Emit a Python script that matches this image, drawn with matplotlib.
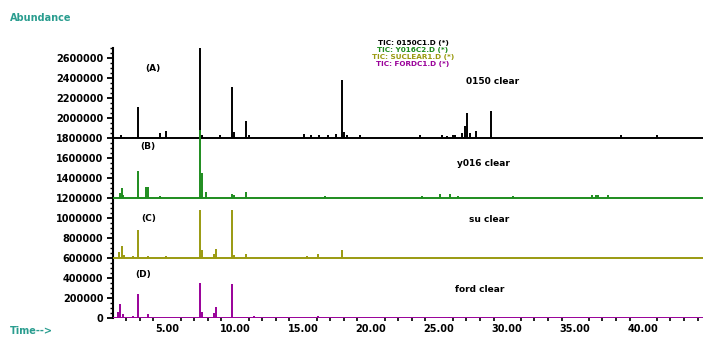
import numpy as np
import matplotlib
matplotlib.use("Agg")
import matplotlib.pyplot as plt
from matplotlib.ticker import MultipleLocator, FixedLocator

# peak times (min) and heights above each trace's own baseline
a_times = [1.6, 1.85, 2.5, 2.87, 4.49, 4.93, 7.43, 7.57, 8.9, 9.78, 9.93, 10.8, 11.0,
           15.1, 15.6, 16.2, 16.8, 17.4, 17.87, 18.0, 18.2, 19.2,
           23.6, 25.2, 25.6, 26.0, 26.2, 26.7, 26.9, 27.06, 27.3, 27.7, 28.8, 38.4, 41.0]
a_heights = [30000, 15000, 10000, 310000, 50000, 70000, 910000, 30000, 30000, 510000, 60000, 170000, 30000,
             40000, 30000, 30000, 30000, 40000, 580000, 60000, 30000, 30000,
             30000, 30000, 20000, 30000, 30000, 50000, 120000, 250000, 50000, 70000, 270000, 30000, 30000]

b_times = [1.54, 1.69, 1.8, 2.87, 3.46, 3.6, 4.49, 7.43, 7.57, 7.87, 9.78, 9.9, 10.8,
           16.6, 23.75, 25.1, 25.8, 26.4, 30.4, 36.25, 36.5, 36.7, 37.4]
b_heights = [50000, 100000, 30000, 270000, 110000, 110000, 20000, 680000, 250000, 60000, 40000, 30000, 60000,
             20000, 20000, 40000, 40000, 20000, 20000, 30000, 30000, 30000, 30000]

c_times = [1.47, 1.69, 1.84, 2.5, 2.87, 3.6, 4.93, 7.43, 7.57, 8.46, 8.6, 9.78, 9.93, 10.8,
           15.3, 16.1, 17.87]
c_heights = [60000, 120000, 30000, 20000, 280000, 20000, 20000, 480000, 80000, 40000, 90000, 480000, 30000, 40000,
             20000, 40000, 80000]

d_times = [1.4, 1.54, 1.77, 2.5, 2.87, 3.6, 7.43, 7.57, 8.46, 8.6, 9.78, 11.4, 16.1, 25.7]
d_heights = [60000, 140000, 40000, 20000, 240000, 40000, 350000, 60000, 50000, 110000, 340000, 20000, 20000, 10000]

baselines = [1800000, 1200000, 600000, 0]
colors = ['black', '#1e8c1e', '#9a9a10', '#990099']
panel_tags = ['(A)', '(B)', '(C)', '(D)']
sample_names = ['0150 clear', 'y016 clear', 'su clear', 'ford clear']
legend_lines = ['TIC: 0150C1.D (*)', 'TIC: Y016C2.D (*)', 'TIC: SUCLEAR1.D (*)', 'TIC: FORDC1.D (*)']

y_ticks = list(range(0, 2600001, 200000))
x_ticks = [5, 10, 15, 20, 25, 30, 35, 40]
x_tick_labels = ['5.00', '10.00', '15.00', '20.00', '25.00', '30.00', '35.00', '40.00']

t_min, t_max = 1.03, 44.4

fig = plt.figure(figsize=(7.03, 3.38), dpi=100)
ax = fig.add_axes([113 / 703, 20 / 338, 590 / 703, 270 / 338])

traces = [(a_times, a_heights), (b_times, b_heights), (c_times, c_heights), (d_times, d_heights)]
for i in range(4):
    times, heights = traces[i]
    base = baselines[i]
    ax.hlines(base, t_min, t_max, color=colors[i], lw=1.4, zorder=2 + i)
    ax.vlines(times, base, base + np.array(heights), color=colors[i], lw=1.4, zorder=2 + i)

ax.set_xlim(t_min, t_max)
ax.set_ylim(0, 2700000)

for s in ['top', 'right', 'bottom']:
    ax.spines[s].set_visible(False)
ax.spines['left'].set_linewidth(1.5)
ax.spines['left'].set_bounds(0, 2700000)

ax.set_yticks(y_ticks)
ax.set_yticklabels([str(v) for v in y_ticks], fontsize=7, fontweight='bold')
ax.yaxis.set_minor_locator(MultipleLocator(50000))
ax.tick_params(axis='y', which='major', length=4, width=1.3, pad=3)
ax.tick_params(axis='y', which='minor', length=2, width=1)

ax.set_xticks(x_ticks)
ax.set_xticklabels(x_tick_labels, fontsize=7, fontweight='bold')
ax.xaxis.set_minor_locator(FixedLocator([t for t in range(2, 45) if t % 5 != 0]))
ax.tick_params(axis='x', which='major', length=0, pad=4)
ax.tick_params(axis='x', which='minor', length=2, width=1.2, direction='out')

# trace tags and sample names
tag_pos = [(3.4, 2500000), (3.0, 1710000), (3.1, 1000000), (2.7, 440000)]
name_pos = [(27.0, 2370000), (26.3, 1550000), (27.2, 990000), (26.2, 280000)]
for i in range(4):
    ax.text(tag_pos[i][0], tag_pos[i][1], panel_tags[i], fontsize=6.5, fontweight='bold', va='center', color='black')
    ax.text(name_pos[i][0], name_pos[i][1], sample_names[i], fontsize=6.5, fontweight='bold', va='center', color='black')

legend_y = [43, 50, 57, 64]
for i in range(4):
    fig.text(413 / 703, 1 - legend_y[i] / 338, legend_lines[i], fontsize=5.2, fontweight='bold',
             color=colors[i], ha='center', va='center')

teal = '#2a9d8f'
fig.text(10 / 703, 1 - 18 / 338, 'Abundance', fontsize=7, fontweight='bold', color=teal, va='center')
fig.text(10 / 703, 1 - 331 / 338, 'Time-->', fontsize=7, fontweight='bold', color=teal, va='center')

fig.savefig('out.png', dpi=100)
